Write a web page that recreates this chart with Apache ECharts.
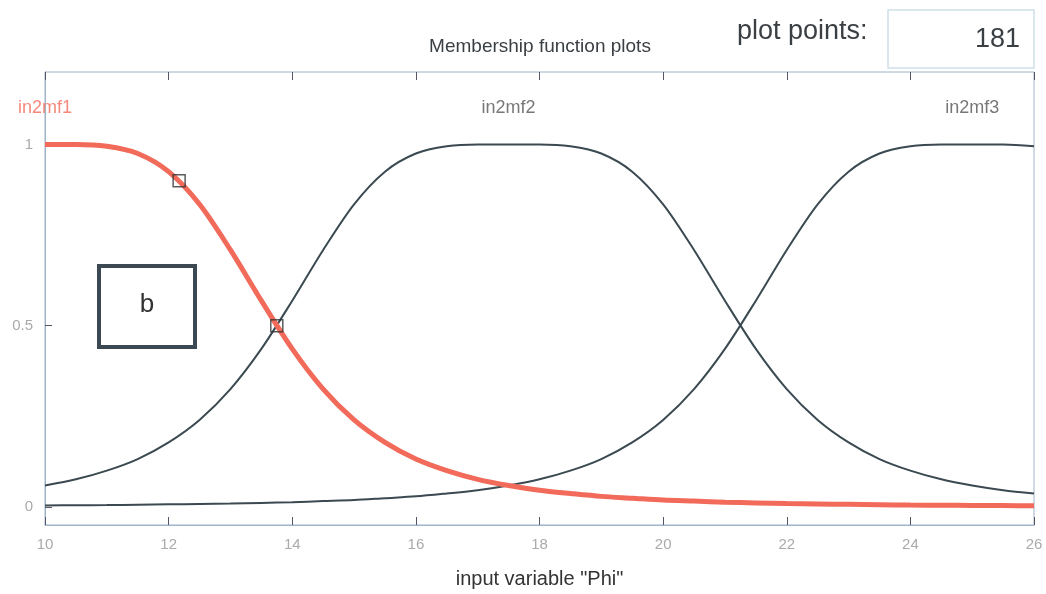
<!DOCTYPE html>
<html>
<head>
<meta charset="utf-8">
<script src="https://cdn.jsdelivr.net/npm/echarts@6/dist/echarts.min.js"></script>
<style>html,body{margin:0;padding:0;background:#fff}#c{width:1046px;height:594px}</style>
</head>
<body>
<div id="c"></div>
<script>
const xValues = [10,10.5,11,11.5,12,12.5,13,13.5,14,14.5,15,15.5,16,16.5,17,17.5,18,18.5,19,19.5,20,20.5,21,21.5,22,22.5,23,23.5,24,24.5,25,25.5,26];
const in2mf1 = [1,1,0.995,0.975,0.925,0.835,0.709,0.569,0.436,0.325,0.24,0.178,0.132,0.1,0.076,0.059,0.046,0.037,0.029,0.024,0.019,0.016,0.013,0.011,0.009,0.008,0.007,0.006,0.005,0.0045,0.004,0.0035,0.003];
const in2mf2 = [0.059,0.076,0.1,0.132,0.178,0.24,0.325,0.436,0.569,0.709,0.835,0.925,0.975,0.995,1,1,1,0.995,0.975,0.925,0.835,0.709,0.569,0.436,0.325,0.24,0.178,0.132,0.1,0.076,0.059,0.046,0.037];
const in2mf3 = [0.004,0.0045,0.005,0.006,0.007,0.008,0.009,0.011,0.013,0.016,0.019,0.024,0.029,0.037,0.046,0.059,0.076,0.1,0.132,0.178,0.24,0.325,0.436,0.569,0.709,0.835,0.925,0.975,0.995,1,1,1,0.995];
const mfNames = ['in2mf1','in2mf2','in2mf3'];
const mfPeaks = [10,17.5,25];
const selectedPoints = [[12.17,0.9],[13.75,0.5]];
const yTicks = [0,0.5,1];

const pair = (ys) => xValues.map((x,i)=>[x,ys[i]]);
const chart = echarts.init(document.getElementById('c'));
const axisColor = '#9fb4c8';
const fontFam = '"Liberation Sans",Arial,sans-serif';
chart.setOption({
  animation:false,
  grid:{left:45,right:12,top:72,bottom:67,show:true,borderColor:axisColor,borderWidth:1},
  xAxis:[{
    type:'value',min:10,max:26,interval:2,
    axisLine:{onZero:false,lineStyle:{color:axisColor}},
    axisTick:{inside:true,length:8,lineStyle:{color:'#556'}},
    axisLabel:{color:'#aaa',fontSize:15,margin:12,fontFamily:fontFam},
    splitLine:{show:false},
    name:'input variable "Phi"',nameLocation:'middle',nameGap:44,
    nameTextStyle:{color:'#333',fontSize:20,fontFamily:fontFam}
  },{
    type:'value',min:10,max:26,interval:2,position:'top',
    axisLine:{show:false,onZero:false},
    axisTick:{inside:true,length:8,lineStyle:{color:'#556'}},
    axisLabel:{show:false},splitLine:{show:false}
  }],
  yAxis:{
    type:'value',min:-0.05,max:1.2,
    axisLine:{show:true,onZero:false,lineStyle:{color:axisColor}},
    axisTick:{show:true,inside:true,length:7,customValues:yTicks,lineStyle:{color:'#556'}},
    axisLabel:{color:'#aaa',fontSize:15,margin:12,customValues:yTicks,fontFamily:fontFam},
    splitLine:{show:false}
  },
  graphic:[
    {type:'text',x:540,y:47,style:{text:'Membership function plots',fill:'#3a3f44',font:'19px '+fontFam,textAlign:'center',textVerticalAlign:'middle'}},
    {type:'text',x:737,y:32,style:{text:'plot points:',fill:'#3a3f44',font:'27px '+fontFam,textVerticalAlign:'middle'}},
    {type:'rect',shape:{x:888,y:10,width:146,height:58},style:{fill:'#fff',stroke:'#cfe0ea',lineWidth:1.5}},
    {type:'text',x:1020,y:40,style:{text:'181',fill:'#3a3f44',font:'27px '+fontFam,textAlign:'right',textVerticalAlign:'middle'}},
    {type:'rect',shape:{x:99,y:266,width:96,height:81},style:{fill:'#fff',stroke:'#3c4852',lineWidth:4},z:10},
    {type:'text',x:147,y:305,style:{text:'b',fill:'#333',font:'26px '+fontFam,textAlign:'center',textVerticalAlign:'middle'},z:11}
  ],
  series:[
    {type:'line',data:pair(in2mf2),smooth:0.3,symbol:'none',lineStyle:{color:'#3a4a50',width:2},z:2},
    {type:'line',data:pair(in2mf3),smooth:0.3,symbol:'none',lineStyle:{color:'#3a4a50',width:2},z:2},
    {type:'line',data:pair(in2mf1),smooth:0.3,symbol:'none',lineStyle:{color:'#f26a5a',width:5},z:3},
    {type:'scatter',data:selectedPoints,symbol:'rect',symbolSize:12,itemStyle:{color:'rgba(0,0,0,0)',borderColor:'#333',borderWidth:1.5},z:4},
    {type:'scatter',symbolSize:0,data:mfPeaks.map((x,i)=>({value:[x,1.1],label:{color:i===0?'#f26a5a':'#555'}})),
     label:{show:true,position:'inside',formatter:(p)=>mfNames[p.dataIndex],fontSize:18,fontFamily:fontFam},z:5}
  ]
});
</script>
</body>
</html>
